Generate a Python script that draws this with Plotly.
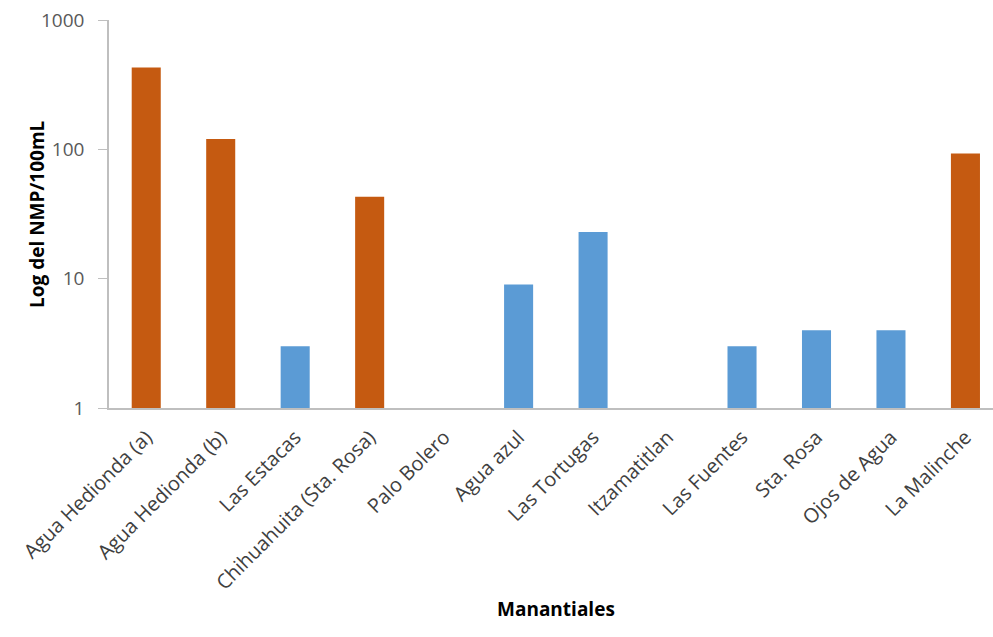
import plotly.graph_objects as go

# Manantiales y su NMP (coliformes) por 100 mL
manantiales = [
    "Agua Hedionda (a)", "Agua Hedionda (b)", "Las Estacas",
    "Chihuahuita (Sta. Rosa)", "Palo Bolero", "Agua azul", "Las Tortugas",
    "Itzamatitlan", "Las Fuentes", "Sta. Rosa", "Ojos de Agua", "La Malinche",
]
nmp = [430, 120, 3, 43, 1, 9, 23, 1, 3, 4, 4, 93]
grupo = ["alto", "alto", "bajo", "alto", "bajo", "bajo", "bajo",
         "bajo", "bajo", "bajo", "bajo", "alto"]
y_ticks = [1, 10, 100, 1000]

colores = {"alto": "#C55A11", "bajo": "#5B9BD5"}

FONT = "Open Sans, Lato, sans-serif"

fig = go.Figure(
    go.Bar(
        x=manantiales,
        y=nmp,
        marker=dict(color=[colores[g] for g in grupo], line=dict(width=0)),
        width=0.39,
    )
)

fig.update_layout(
    width=993,
    height=637,
    margin=dict(l=109, r=0, t=20, b=229),
    paper_bgcolor="white",
    plot_bgcolor="white",
    showlegend=False,
    xaxis=dict(
        range=[-0.5, 11.37],
        tickangle=-45,
        tickfont=dict(family=FONT, size=20, color="#404040"),
        ticklabelstandoff=8,
        showline=True,
        linecolor="#BFBFBF",
        linewidth=1.5,
        ticks="",
        showgrid=False,
        zeroline=False,
    ),
    yaxis=dict(
        type="log",
        range=[0, 3],
        tickvals=y_ticks,
        ticktext=[str(v) for v in y_ticks],
        tickfont=dict(family=FONT, size=19, color="#595959"),
        ticklabelstandoff=10,
        showline=True,
        linecolor="#BFBFBF",
        linewidth=1.5,
        ticks="outside",
        ticklen=9,
        tickcolor="#BFBFBF",
        showgrid=False,
        zeroline=False,
    ),
)

# axis titles placed in pixel terms relative to the plot area
plot_w = 993 - 109
plot_h = 637 - 20 - 229
fig.add_annotation(
    text="<b>Log del NMP/100mL</b>",
    x=(22 - 109) / plot_w, y=(637 - 229 - 214) / plot_h,
    xref="paper", yref="paper",
    font=dict(family=FONT, size=19, color="#000000"),
    textangle=-90, showarrow=False,
)
fig.add_annotation(
    text="<b>Manantiales</b>",
    x=(556 - 109) / plot_w, y=(637 - 229 - 624) / plot_h,
    xref="paper", yref="paper",
    font=dict(family=FONT, size=19, color="#000000"),
    showarrow=False,
)

fig.write_html("out.html")
